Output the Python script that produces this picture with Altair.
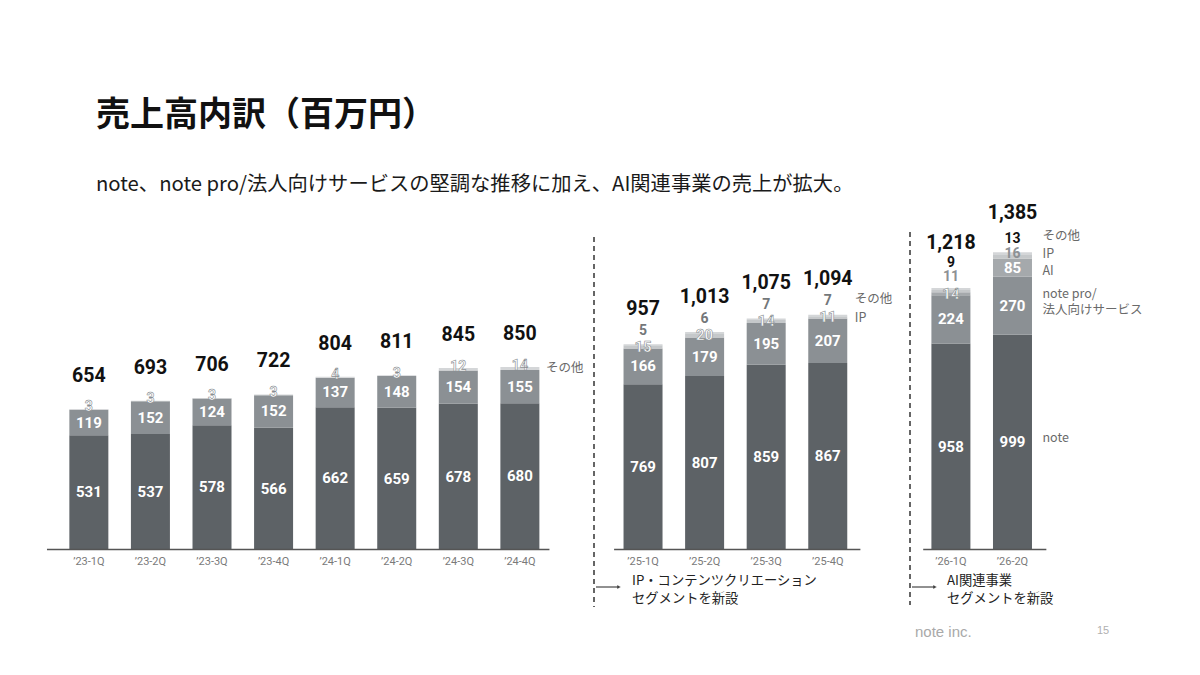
import altair as alt
import pandas as pd

# ---------------- data ----------------
quarters = ["’23-1Q", "’23-2Q", "’23-3Q", "’23-4Q", "’24-1Q", "’24-2Q", "’24-3Q", "’24-4Q",
            "’25-1Q", "’25-2Q", "’25-3Q", "’25-4Q", "’26-1Q", "’26-2Q"]
panel_of = [0, 0, 0, 0, 0, 0, 0, 0, 1, 1, 1, 1, 2, 2]
note = [531, 537, 578, 566, 662, 659, 678, 680, 769, 807, 859, 867, 958, 999]
note_pro = [119, 152, 124, 152, 137, 148, 154, 155, 166, 179, 195, 207, 224, 270]
ai = [None] * 12 + [14, 85]
ip = [None] * 8 + [15, 20, 14, 11, 11, 16]
other = [3, 3, 3, 3, 4, 3, 12, 14, 5, 6, 7, 7, 9, 13]
totals = [654, 693, 706, 722, 804, 811, 845, 850, 957, 1013, 1075, 1094, 1218, 1385]

segment_keys = ["note", "note_pro", "ai", "ip", "other"]
segment_names = ["note", "note pro/\n法人向けサービス", "AI", "IP", "その他"]
legend_segments = [["other"], ["other", "ip"], ["other", "ip", "ai", "note_pro", "note"]]

title_text = "売上高内訳（百万円）"
subtitle_text = "note、note pro/法人向けサービスの堅調な推移に加え、AI関連事業の売上が拡大。"
note_ip = "IP・コンテンツクリエーション\nセグメントを新設"
note_ai = "AI関連事業\nセグメントを新設"
footer_text = "note inc."
page_no = "15"

# ---------------- layout / style ----------------
W, H = 1184, 659
STEP_PX = 62.1          # px between neighbouring quarters
PX_PER_UNIT = 0.215     # px per million yen
X0_PX = 76.5            # view x of first bar centre
BASE_PX = 541.5         # view y of the zero line
X_SCALE = alt.Scale(domain=[-X0_PX / STEP_PX, (W - X0_PX) / STEP_PX], nice=False, zero=False)
Y_SCALE = alt.Scale(domain=[-(H - BASE_PX) / PX_PER_UNIT, BASE_PX / PX_PER_UNIT], nice=False, zero=False)

seg_colors = {"note": "#5d6266", "note_pro": "#8b9094", "ai": "#a5a9ac",
              "ip": "#c5c8ca", "other": "#d4d6d8"}
NUM_FONT = "Roboto"
JP_FONT = "Noto Sans CJK JP"

series = dict(zip(segment_keys, [note, note_pro, ai, ip, other]))
names = dict(zip(segment_keys, segment_names))

rows = []
for i, q in enumerate(quarters):
    p = panel_of[i]
    base = 0
    for seg in segment_keys:
        v = series[seg][i]
        if v is None:
            continue
        rows.append(dict(q=q, i=i, panel=p, pos=i + p, seg=seg, value=v,
                         y0=base, y1=base + v, mid=base + v / 2, label=str(v)))
        base += v
bars = pd.DataFrame(rows)


def label_style(r):
    seg, p, q = r["seg"], r["panel"], r["q"]
    if seg in ("note", "note_pro"):
        return "inner", 0
    if seg == "ai":
        return ("inner" if q == "’26-2Q" else "outline"), 0
    if seg == "ip":
        if p == 1:
            return "outline", 0
        return "grey", (-14 if q == "’26-1Q" else -3)
    if seg == "other":
        if p == 0:
            return "outline_s", -2
        if p == 1:
            return "grey2", -14
        return "black", (-26 if q == "’26-1Q" else -15)
    return "inner", 0


styles = {
    "inner": dict(color="white", fontSize=15),
    "outline": dict(color="white", fontSize=15, stroke="#8a8f93", strokeWidth=0.6),
    "outline_s": dict(color="white", fontSize=14, stroke="#8a8f93", strokeWidth=0.6),
    "grey": dict(color="#8d9194", fontSize=14),
    "grey2": dict(color="#73777a", fontSize=14),
    "black": dict(color="#111111", fontSize=14),
}
st = bars.apply(label_style, axis=1, result_type="expand")
bars["sty"] = st[0]
bars["dy"] = st[1]

tot = pd.DataFrame(dict(q=quarters, total=totals, panel=panel_of,
                        pos=[i + p for i, p in enumerate(panel_of)]))
tot_dy = {0: -33, 1: -35}
tot["dy"] = [tot_dy.get(p, -45 if q == "’26-1Q" else -39) for q, p in zip(quarters, panel_of)]

leg_rows = []
leg_dx = [26, 27, 30]
leg_dy = {(1, "other"): -16, (1, "ip"): 1, (2, "other"): -18, (2, "ip"): -3, (2, "ai"): 3,
          (2, "note_pro"): -12, (2, "note"): -4}
for p, segs in enumerate(legend_segments):
    last_i = max(i for i, pp in enumerate(panel_of) if pp == p)
    for seg in segs:
        r = bars[(bars.i == last_i) & (bars.seg == seg)].iloc[0]
        leg_rows.append(dict(pos=r["pos"], mid=r["mid"], text=names[seg],
                             dx=leg_dx[p], dy=leg_dy.get((p, seg), 0)))
leg = pd.DataFrame(leg_rows)

axis_rows = []
pad_l = [0.68, 0.47, 0.45]
pad_r = [0.48, 0.53, 0.55]
for p in range(3):
    ps = [i + pp for i, pp in enumerate(panel_of) if pp == p]
    axis_rows.append(dict(x=min(ps) - pad_l[p], x2=max(ps) + pad_r[p], y=0))
axis_df = pd.DataFrame(axis_rows)


def X(f):
    return alt.X(f, type="quantitative", scale=X_SCALE, axis=None)


def Y(f):
    return alt.Y(f, type="quantitative", scale=Y_SCALE, axis=None)


layers = []

# bars
layers.append(
    alt.Chart(bars).mark_bar(size=39).encode(
        x=X("pos"), y=Y("y0"), y2="y1",
        color=alt.Color("seg:N", scale=alt.Scale(domain=list(seg_colors), range=list(seg_colors.values())),
                        legend=None),
    )
)

# segment labels
for (sty, dy), sub in bars.groupby(["sty", "dy"]):
    layers.append(
        alt.Chart(sub).mark_text(font=NUM_FONT, fontWeight="bold", baseline="middle",
                                 dy=int(dy), **styles[sty]).encode(
            x=X("pos"), y=Y("mid"), text="label:N")
    )

# totals
for dy, sub in tot.groupby("dy"):
    layers.append(
        alt.Chart(sub).mark_text(font=NUM_FONT, fontWeight="bold", fontSize=19.5, color="#111111",
                                 baseline="middle", dy=int(dy)).encode(
            x=X("pos"), y=Y("total"), text=alt.Text("total:Q", format=","))
    )

# segment legend labels
for (dx, dy), sub in leg.groupby(["dx", "dy"]):
    layers.append(
        alt.Chart(sub).mark_text(font=JP_FONT, fontSize=12.5, color="#6a6a6a", align="left",
                                 baseline="middle", lineBreak="\n", lineHeight=16,
                                 dx=int(dx), dy=int(dy)).encode(
            x=X("pos"), y=Y("mid"), text="text:N")
    )

# x axis lines and labels
layers.append(
    alt.Chart(axis_df).mark_rule(color="#555555", strokeWidth=1.5).encode(
        x=X("x"), x2="x2", y=Y("y"))
)
layers.append(
    alt.Chart(tot).mark_text(font=NUM_FONT, fontSize=11, color="#7a7a7a", baseline="middle", dy=12).encode(
        x=X("pos"), y=alt.Y("zero:Q", scale=Y_SCALE, axis=None), text="q:N"
    ).transform_calculate(zero="0")
)

one = pd.DataFrame({"k": [0]})

# separators, arrows and notes
for sx, y1, y2 in [(586, 229, 599), (902, 224, 597)]:
    layers.append(alt.Chart(one).mark_rule(color="#333333", strokeWidth=1.5, strokeDash=[5, 4]).encode(
        x=alt.value(sx), y=alt.value(y1), y2=alt.value(y2)))
for ax0, ax1, tx, txt in [(588, 611, 624, note_ip), (904, 927, 939, note_ai)]:
    layers.append(alt.Chart(one).mark_rule(color="#222222", strokeWidth=1).encode(
        x=alt.value(ax0), x2=alt.value(ax1), y=alt.value(579)))
    layers.append(alt.Chart(one).mark_point(shape="triangle-right", filled=True, size=18, color="#222222").encode(
        x=alt.value(ax1), y=alt.value(579)))
    layers.append(alt.Chart(one).mark_text(font=JP_FONT, fontSize=13.3, color="#222222", align="left",
                                           baseline="middle", lineBreak="\n", lineHeight=18).encode(
        x=alt.value(tx), y=alt.value(573), text=alt.value(txt)))

# title, subtitle, footer
layers.append(alt.Chart(one).mark_text(font=JP_FONT, fontSize=34, fontWeight="bold", color="#111111",
                                       align="left", baseline="middle").encode(
    x=alt.value(88), y=alt.value(108), text=alt.value(title_text)))
layers.append(alt.Chart(one).mark_text(font=JP_FONT, fontSize=20.3, color="#1a1a1a",
                                       align="left", baseline="middle").encode(
    x=alt.value(88), y=alt.value(177), text=alt.value(subtitle_text)))
layers.append(alt.Chart(one).mark_text(font="Liberation Sans", fontSize=15, color="#a9a9a9",
                                       align="left", baseline="middle").encode(
    x=alt.value(907), y=alt.value(624), text=alt.value(footer_text)))
layers.append(alt.Chart(one).mark_text(font="Liberation Sans", fontSize=11, color="#b0b0b0",
                                       align="left", baseline="middle").encode(
    x=alt.value(1089), y=alt.value(623), text=alt.value(page_no)))

chart = alt.layer(*layers).properties(
    width=W, height=H, autosize=alt.AutoSizeParams(type="none"), padding=0,
    background="white",
).configure_view(stroke=None)

chart.save("out.html", embed_options={"renderer": "svg", "actions": False})
